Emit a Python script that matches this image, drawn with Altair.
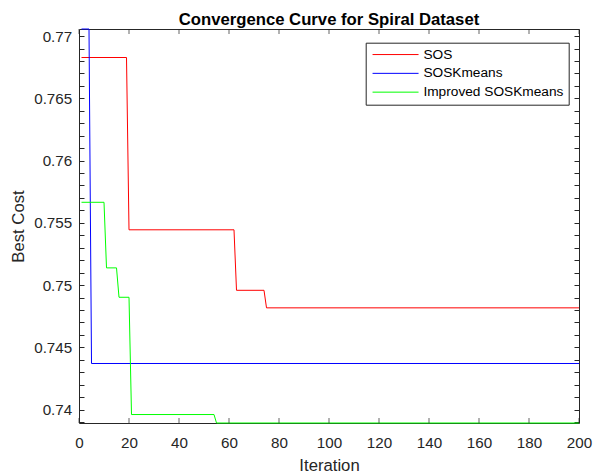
import altair as alt
import pandas as pd

# Best cost per iteration (vertices of each convergence curve)
sos_iter = [1, 19, 20, 62, 63, 74, 75, 200]
sos_cost = [0.76828, 0.76828, 0.75444, 0.75444, 0.74958, 0.74958, 0.74817, 0.74817]

soskm_iter = [1, 4, 5, 200]
soskm_cost = [0.77057, 0.77057, 0.74370, 0.74370]

imp_iter = [1, 10, 11, 15, 16, 20, 21, 54, 55, 200]
imp_cost = [0.75665, 0.75665, 0.75138, 0.75138, 0.74902, 0.74902,
            0.73960, 0.73960, 0.73892, 0.73892]

series_names = ["SOS", "SOSKmeans", "Improved SOSKmeans"]
series_colors = ["#ff0000", "#0000ff", "#00ff00"]

x_ticks = [0, 20, 40, 60, 80, 100, 120, 140, 160, 180, 200]
y_ticks = [v / 1000 for v in range(739, 771)]   # minor ticks every 0.001, labels every 0.005

x_domain = [0, 200]
y_domain = [0.73892, 0.77057]

W, H = 500, 394
TICK = 5
FONT = "Liberation Sans"
AX = "#262626"

data = pd.concat([
    pd.DataFrame({"iter": sos_iter, "cost": sos_cost, "series": "SOS"}),
    pd.DataFrame({"iter": soskm_iter, "cost": soskm_cost, "series": "SOSKmeans"}),
    pd.DataFrame({"iter": imp_iter, "cost": imp_cost, "series": "Improved SOSKmeans"}),
], ignore_index=True)
xtick_df = pd.DataFrame({"tick": x_ticks})

xs = alt.Scale(domain=x_domain, nice=False, zero=False)
ys = alt.Scale(domain=y_domain, nice=False, zero=False)
cs = alt.Scale(domain=series_names, range=series_colors)

legend = alt.Legend(
    title=None, orient="none", legendX=286.7, legendY=13.7, direction="vertical",
    symbolType="M-4.6,0H4.6", symbolSize=100, symbolStrokeWidth=1, symbolOffset=18,
    labelOffset=21, labelFont=FONT, labelFontSize=13.7, labelColor="#000000",
    strokeColor=AX, fillColor="white", padding=5, rowPadding=3.8, labelLimit=0,
)


def curves(xaxis, yaxis, opacity):
    return alt.Chart(data).mark_line(strokeWidth=1, clip=False, opacity=opacity).encode(
        x=alt.X("iter:Q", scale=xs, axis=xaxis),
        y=alt.Y("cost:Q", scale=ys, axis=yaxis),
        color=alt.Color("series:N", scale=cs, legend=legend, sort=series_names),
        order=alt.Order("iter:Q"),
    )


def x_tick_marks(edge_value, shift):
    # short inward tick marks along the bottom / top edge of the box
    return alt.Chart(xtick_df).mark_tick(
        orient="vertical", size=TICK, thickness=1, color=AX, yOffset=shift
    ).encode(
        x=alt.X("tick:Q", scale=xs, axis=None),
        y=alt.YDatum(edge_value, type="quantitative", axis=None),
    )


# Labelled axes on the left and bottom; y axis pulled inside by its tick length
x_lab = alt.Axis(orient="bottom", values=x_ticks, ticks=False, tickSize=0, domain=False,
                 grid=False, labelFont=FONT, labelFontSize=15.2, labelColor=AX,
                 labelPadding=12, labelFlush=False, format="d", title="Iteration",
                 titleFont=FONT, titleFontSize=16.7, titleFontWeight="normal",
                 titleColor=AX, titleX=W / 2, titleY=47, titleBaseline="alphabetic")
y_lab = alt.Axis(orient="left", offset=-TICK, values=y_ticks, ticks=True,
                 tickSize=TICK, tickColor=AX, tickWidth=1, domain=False, grid=False,
                 labelFont=FONT, labelFontSize=15.2, labelColor=AX, labelPadding=7.3,
                 labelFlush=False, format="~g",
                 labelExpr="abs(datum.value * 200 - round(datum.value * 200)) < 1e-6 ? datum.label : ''",
                 title="Best Cost", titleFont=FONT, titleFontSize=16.7,
                 titleFontWeight="normal", titleColor=AX, titleAngle=270,
                 titleX=-55.5 - TICK, titleY=H / 2, titleBaseline="alphabetic",
                 titleAlign="center")
y_right = alt.Axis(orient="right", offset=-TICK, values=y_ticks, labels=False,
                   domain=False, grid=False, ticks=True, tickSize=TICK, tickColor=AX,
                   tickWidth=1, title=None)

chart = alt.layer(
    curves(x_lab, y_lab, 1),
    curves(None, y_right, 0),
    x_tick_marks(y_domain[0], -TICK / 2),
    x_tick_marks(y_domain[1], TICK / 2),
).resolve_axis(
    x="independent", y="independent"
).properties(
    width=W, height=H,
    padding={"left": 79, "top": 29, "right": 24, "bottom": 52},
    autosize=alt.AutoSizeParams(type="none"),
    background="white",
    title=alt.TitleParams(
        "Convergence Curve for Spiral Dataset", font=FONT, fontSize=16.7,
        fontWeight="bold", color="#000000", anchor="middle", baseline="alphabetic",
        offset=5, dy=20, frame="group",
    ),
).configure_view(stroke=AX, strokeWidth=1)

chart.save("out.html", embed_options={"renderer": "svg", "actions": False})
